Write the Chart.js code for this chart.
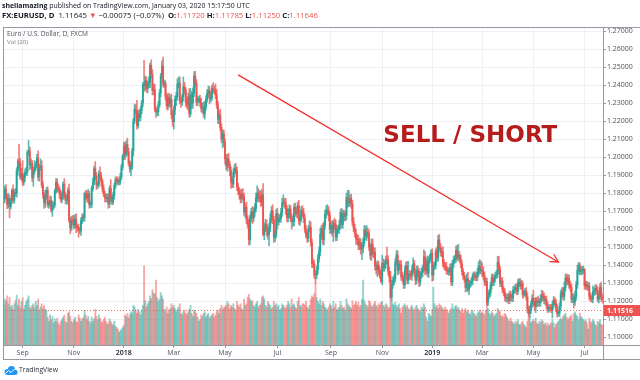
<!DOCTYPE html>
<html><head><meta charset="utf-8">
<script src="https://cdn.jsdelivr.net/npm/chart.js@4.4.1/dist/chart.umd.min.js"></script>
<style>html,body{margin:0;padding:0;background:#fff;}canvas{display:block;}</style>
</head><body>
<canvas id="c" width="640" height="380"></canvas>
<script>
// ---------------- DATA (EUR/USD daily) ----------------
const startDate = '2017-08-10';
const firstOpen = 1.1757;
const closes = [
// Aug 2017
1.1766,1.1822,1.1780,1.1735,1.1769,1.1725,1.1761,1.1815,1.1760,1.1800,1.1797,1.1923,1.1977,1.1967,1.1887,1.1907,
// Sep 2017
1.1860,1.1890,1.1915,1.1918,1.2025,1.2035,1.1955,1.1965,1.1885,1.1920,1.1945,1.1955,1.1995,1.1890,1.1940,1.1950,1.1845,1.1790,1.1745,1.1785,1.1815,
// Oct 2017
1.1735,1.1740,1.1760,1.1705,1.1730,1.1735,1.1810,1.1860,1.1825,1.1820,1.1795,1.1765,1.1785,1.1850,1.1785,1.1760,1.1762,1.1815,1.1650,1.1605,1.1650,1.1645,
// Nov 2017
1.1620,1.1655,1.1610,1.1608,1.1595,1.1590,1.1645,1.1665,1.1662,1.1795,1.1792,1.1770,1.1795,1.1735,1.1738,1.1825,1.1855,1.1935,1.1895,1.1845,1.1848,1.1905,
// Dec 2017
1.1895,1.1865,1.1825,1.1795,1.1775,1.1770,1.1775,1.1740,1.1825,1.1775,1.1750,1.1785,1.1840,1.1875,1.1870,1.1860,1.1862,1.1890,1.1945,1.2005,
// Jan 2018
1.2060,1.2015,1.2070,1.2030,1.1965,1.1935,1.1950,1.2035,1.2200,1.2265,1.2260,1.2175,1.2235,1.2220,1.2260,1.2300,1.2405,1.2395,1.2425,1.2380,1.2400,1.2415,
// Feb 2018
1.2510,1.2460,1.2370,1.2375,1.2265,1.2250,1.2253,1.2290,1.2355,1.2450,1.2505,1.2405,1.2408,1.2335,1.2285,1.2330,1.2295,1.2320,1.2235,1.2195,
// Mar 2018
1.2265,1.2320,1.2335,1.2405,1.2410,1.2310,1.2305,1.2335,1.2390,1.2370,1.2305,1.2290,1.2335,1.2240,1.2345,1.2300,1.2355,1.2450,1.2410,1.2305,1.2320,1.2323,
// Apr 2018
1.2300,1.2270,1.2275,1.2240,1.2280,1.2320,1.2355,1.2370,1.2325,1.2330,1.2380,1.2375,1.2372,1.2345,1.2290,1.2210,1.2235,1.2165,1.2100,1.2130,1.2080,
// May 2018
1.1990,1.1950,1.1990,1.1960,1.1925,1.1865,1.1850,1.1915,1.1940,1.1925,1.1835,1.1810,1.1795,1.1770,1.1790,1.1780,1.1695,1.1720,1.1655,1.1625,1.1540,1.1665,1.1695,
// Jun 2018
1.1660,1.1695,1.1715,1.1775,1.1800,1.1770,1.1780,1.1750,1.1790,1.1570,1.1605,1.1625,1.1590,1.1568,1.1605,1.1655,1.1700,1.1650,1.1555,1.1570,1.1685,
// Jul 2018
1.1640,1.1655,1.1658,1.1690,1.1745,1.1750,1.1745,1.1710,1.1665,1.1685,1.1710,1.1660,1.1640,1.1642,1.1720,1.1690,1.1685,1.1730,1.1645,1.1655,1.1705,1.1690,
// Aug 2018
1.1660,1.1600,1.1565,1.1550,1.1600,1.1610,1.1525,1.1410,1.1405,1.1345,1.1343,1.1375,1.1435,1.1475,1.1570,1.1600,1.1540,1.1620,1.1680,1.1700,1.1705,1.1675,1.1600,
// Sep 2018
1.1620,1.1580,1.1630,1.1625,1.1555,1.1595,1.1600,1.1625,1.1690,1.1625,1.1685,1.1670,1.1675,1.1775,1.1745,1.1750,1.1770,1.1740,1.1640,1.1605,
// Oct 2018
1.1575,1.1545,1.1540,1.1510,1.1525,1.1490,1.1492,1.1525,1.1595,1.1560,1.1580,1.1575,1.1500,1.1455,1.1515,1.1465,1.1470,1.1395,1.1375,1.1400,1.1370,1.1345,1.1310,
// Nov 2018
1.1410,1.1385,1.1405,1.1430,1.1428,1.1365,1.1335,1.1220,1.1290,1.1310,1.1325,1.1415,1.1455,1.1370,1.1405,1.1400,1.1335,1.1325,1.1290,1.1370,1.1395,1.1315,
// Dec 2018
1.1350,1.1345,1.1340,1.1375,1.1405,1.1355,1.1315,1.1370,1.1360,1.1305,1.1345,1.1360,1.1380,1.1445,1.1370,1.1420,1.1355,1.1430,1.1440,1.1465,
// Jan 2019
1.1345,1.1395,1.1398,1.1475,1.1440,1.1540,1.1500,1.1470,1.1472,1.1410,1.1395,1.1390,1.1368,1.1362,1.1365,1.1385,1.1305,1.1405,1.1430,1.1435,1.1480,1.1445,
// Feb 2019
1.1455,1.1435,1.1405,1.1365,1.1340,1.1325,1.1275,1.1325,1.1265,1.1295,1.1297,1.1310,1.1340,1.1342,1.1335,1.1332,1.1360,1.1395,1.1370,1.1372,
// Mar 2019
1.1365,1.1340,1.1305,1.1307,1.1195,1.1235,1.1245,1.1285,1.1330,1.1305,1.1325,1.1340,1.1350,1.1415,1.1375,1.1300,1.1310,1.1265,1.1250,1.1220,1.1215,
// Apr 2019
1.1218,1.1205,1.1235,1.1220,1.1217,1.1260,1.1265,1.1275,1.1255,1.1300,1.1305,1.1285,1.1295,1.1235,1.1245,1.1255,1.1225,1.1155,1.1130,1.1150,1.1185,1.1215,
// May 2019
1.1195,1.1170,1.1200,1.1197,1.1190,1.1192,1.1215,1.1235,1.1225,1.1205,1.1208,1.1175,1.1155,1.1165,1.1160,1.1150,1.1180,1.1205,1.1190,1.1160,1.1130,1.1133,1.1170,
// Jun 2019
1.1240,1.1250,1.1225,1.1275,1.1330,1.1310,1.1325,1.1290,1.1275,1.1210,1.1220,1.1195,1.1225,1.1290,1.1370,1.1400,1.1365,1.1368,1.1372,1.1375,
// Jul 2019
1.1285,1.1290,1.1280,1.1283,1.1225,1.1215,1.1210,1.1250,1.1255,1.1270,1.1260,1.1210,1.1225,1.1275,1.1220,1.1210
];
// wick lengths above / below the body, in pips
const wickUp = [
20,18,25,15,30,20,12,10,30,20,25,18,12,93,25,30,
73,15,20,25,12,57,20,25,15,22,35,18,20,40,20,40,30,18,12,30,15,
20,15,25,20,25,15,12,20,20,25,15,18,22,12,30,18,30,15,35,15,20,25,
30,25,30,15,20,15,18,20,20,10,20,20,25,15,15,15,30,15,40,20,15,20,
40,20,15,20,15,20,20,20,15,50,15,20,15,15,15,20,15,20,15,10,
25,20,20,35,20,15,25,15,15,30,25,55,20,30,20,15,10,132,25,20,20,30,
13,30,25,30,30,15,20,20,20,15,30,50,20,15,20,20,25,25,30,20,
20,20,25,30,35,35,15,15,55,25,15,15,20,45,35,20,30,25,26,20,15,15,
20,25,25,30,30,20,20,25,20,30,20,34,20,35,30,20,20,30,20,20,20,
20,25,25,30,15,20,25,20,20,25,20,20,20,25,30,35,20,20,30,20,25,15,20,
30,25,25,25,40,25,35,30,30,62,30,30,25,25,25,30,25,35,20,20,25,
30,30,20,25,25,40,20,25,20,30,25,20,25,30,20,25,30,20,30,20,20,25,
25,20,20,20,20,35,30,20,25,20,20,20,25,25,35,20,30,20,25,30,30,20,20,
20,25,20,30,25,20,20,25,20,25,20,20,20,25,40,65,20,25,20,25,
20,25,25,25,25,20,25,25,25,20,40,25,20,20,30,30,25,25,20,25,20,20,25,
45,25,20,20,70,25,25,30,25,25,20,20,25,25,20,20,25,25,20,25,20,25,
70,20,20,20,35,20,25,25,25,20,20,25,20,40,30,20,30,20,20,20,
25,20,20,15,25,25,30,20,20,30,20,20,25,20,20,20,25,20,20,20,25,30,
60,20,20,20,15,20,15,25,35,20,20,20,15,20,20,20,20,25,35,50,
40,25,20,20,20,20,20,20,20,20,20,20,20,33,35,20,20,20,15,20,20,
20,25,20,20,20,20,20,20,20,20,20,20,20,15,15,15,20,20,20,20,15,20,
45,20,20,20,30,20,20,25,20,20,20,20,20,15,15,20,20,20,15,20,20,15,20,
20,25,25,30,20,20,20,20,20,20,20,20,30,20,30,15,12,20,20,20,
5,20,20,20,20,20,20,35,20,20,20,20,20,20,30,20
];
const wickDown = [
15,20,12,22,18,63,15,20,12,18,15,20,25,30,12,15,
20,15,25,18,20,15,25,18,20,47,15,20,15,20,25,15,15,20,30,25,20,
15,20,15,12,35,20,15,12,20,15,25,15,20,20,15,20,25,20,15,30,15,20,
20,15,30,20,41,15,25,15,20,20,30,20,25,20,15,20,15,10,20,25,20,15,
20,25,20,15,25,20,20,25,20,20,15,15,20,15,20,15,15,15,15,15,
20,30,15,20,15,20,40,20,30,15,20,20,15,20,20,20,20,30,25,20,25,15,
30,20,25,25,15,30,20,25,15,20,15,15,20,20,20,25,20,15,20,25,
40,30,35,20,20,15,30,20,25,20,25,20,30,20,15,30,30,20,20,20,20,15,
20,20,25,20,30,20,15,20,30,20,15,20,20,20,20,25,25,20,20,50,20,
30,20,30,20,30,40,20,20,25,20,20,20,30,25,25,20,20,30,25,20,30,25,25,
30,20,25,20,25,20,20,25,20,8,30,20,30,25,62,20,20,20,30,25,20,
40,20,20,20,20,20,30,30,25,25,25,20,40,25,25,20,20,25,20,25,15,20,
25,20,15,25,20,15,20,25,20,20,44,20,25,20,25,25,25,30,20,20,20,30,25,
25,20,50,25,20,20,20,25,25,20,20,25,25,25,25,20,25,25,20,20,
20,30,25,25,25,30,60,25,20,20,25,25,20,25,30,20,25,25,25,40,25,20,10,
20,20,20,25,20,20,30,4,20,20,20,20,20,25,20,20,20,20,20,20,25,20,
20,25,20,25,20,20,25,20,25,25,20,20,25,20,25,20,20,25,20,20,
35,30,20,20,20,20,20,20,25,20,20,20,20,15,20,20,20,20,20,20,20,20,
20,20,20,20,20,20,25,20,15,30,20,15,20,20,20,20,20,20,20,20,
30,20,20,20,19,20,20,20,20,20,20,20,15,20,25,20,20,20,20,20,20,
20,20,20,20,20,20,20,20,20,20,20,20,20,20,15,15,20,20,20,19,20,20,
20,20,35,30,20,20,20,20,25,20,25,20,20,15,15,15,45,20,15,20,20,15,20,
20,20,20,20,20,20,20,20,20,20,20,35,20,20,20,20,20,20,20,20,
20,20,20,20,20,20,15,20,20,20,20,15,20,15,20,20
];
const volumes = [
50,58,55,62,52,60,48,50,45,52,56,63,50,58,47,55,
60,45,50,55,58,62,48,46,50,52,47,55,50,58,44,48,52,46,50,45,44,
35,30,38,32,36,28,33,30,34,28,25,30,32,35,38,30,28,40,42,36,30,28,
32,35,30,28,38,34,30,33,35,44,38,32,36,30,28,35,30,33,45,36,32,38,
34,30,28,32,35,30,26,28,33,30,27,25,30,24,22,20,16,18,20,22,
25,38,36,40,34,38,42,40,50,48,44,40,45,42,38,44,50,100,56,48,52,55,
62,58,70,66,64,82,60,55,58,66,62,58,45,42,48,40,44,46,52,48,
50,46,42,45,48,52,40,38,42,44,40,38,42,45,50,40,36,44,42,40,35,30,
32,38,36,40,42,35,38,40,34,36,38,40,35,38,42,44,40,46,50,45,48,
48,50,55,52,46,50,48,52,46,44,55,50,48,52,46,44,58,50,52,60,64,58,55,
56,50,48,52,55,48,50,52,60,62,58,50,48,55,52,50,46,48,55,50,52,
48,50,44,46,52,50,48,46,50,55,52,48,58,50,52,48,46,55,60,50,48,52,
52,50,55,48,46,50,58,62,60,65,78,60,55,52,58,50,55,52,48,46,44,48,52,
50,46,55,48,52,44,46,48,55,50,46,48,44,58,52,50,48,46,56,50,
52,55,50,54,48,50,58,82,56,52,50,48,56,54,50,48,52,55,50,48,52,50,54,
55,50,48,52,50,46,48,60,55,52,50,54,50,48,52,46,40,48,50,52,48,50,
46,44,48,50,46,44,48,50,46,44,42,48,46,52,48,35,30,40,38,36,
45,73,52,48,50,46,52,50,48,46,44,48,45,42,40,44,46,52,45,48,50,46,
48,44,42,46,40,44,46,42,44,40,38,42,44,40,38,36,40,42,44,40,
42,40,38,44,55,46,40,38,42,40,36,38,40,46,44,42,36,38,35,40,38,
35,32,30,34,30,28,26,30,28,32,26,25,28,30,26,24,22,30,34,36,28,30,
32,30,34,28,26,30,28,32,30,26,28,25,28,24,26,28,32,28,22,26,28,30,32,
34,32,36,38,40,35,32,34,36,38,30,40,42,38,36,32,40,36,34,32,
30,32,28,20,34,30,28,32,30,26,24,30,28,32,26,25
];
const priceTicks = [1.27,1.26,1.25,1.24,1.23,1.22,1.21,1.20,1.19,1.18,1.17,1.16,1.15,1.14,1.13,1.12,1.11,1.10];
const timeTickMonths = ['2017-09','2017-11','2018-01','2018-03','2018-05','2018-07','2018-09','2018-11','2019-01','2019-03','2019-05','2019-07'];
const timeTickLabels = ['Sep','Nov','2018','Mar','May','Jul','Sep','Nov','2019','Mar','May','Jul'];
const lastPrice = 1.11516;
const arrowFrom = {bar: 197, price: 1.2456};
const arrowTo = {bar: 466, price: 1.1417};
const noteText = 'SELL / SHORT';
const noteAt = {bar: 319, price: 1.2083};
// -----------------------------------------------------------------------------

const FONT = '"Open Sans", "Liberation Sans", sans-serif';
const UP = '#26a69a', DOWN = '#ef5350';
const N = closes.length;

// trading calendar (weekdays, no Dec 25 / Jan 1)
const dates = [];
{
  const d = new Date(startDate + 'T00:00:00Z');
  while (dates.length < N) {
    const wd = d.getUTCDay();
    const iso = d.toISOString().slice(0, 10);
    const md = iso.slice(5);
    if (wd !== 0 && wd !== 6 && md !== '12-25' && md !== '01-01') dates.push(iso);
    d.setUTCDate(d.getUTCDate() + 1);
  }
}
const tickIdx = timeTickMonths.map(m => dates.findIndex(s => s.startsWith(m)));

const opens = closes.map((c, i) => i === 0 ? firstOpen : closes[i - 1]);
const highs = closes.map((c, i) => Math.max(opens[i], c) + (wickUp[i] || 0) / 10000);
const lows = closes.map((c, i) => Math.min(opens[i], c) - (wickDown[i] || 0) / 10000);
const isUp = closes.map((c, i) => c >= opens[i]);

function drawRuns(ctx, runs, x, y, targetW, family) {
  const base = 10;
  let w = 0;
  runs.forEach(r => { ctx.font = (r.b ? 'bold ' : '') + base + 'px ' + family; w += ctx.measureText(r.t).width; });
  const s = base * targetW / w;
  let cx = x;
  ctx.textBaseline = 'middle';
  ctx.textAlign = 'left';
  runs.forEach(r => {
    ctx.font = (r.b ? 'bold ' : '') + s.toFixed(2) + 'px ' + family;
    ctx.fillStyle = r.c || '#131722';
    ctx.fillText(r.t, cx, y);
    cx += ctx.measureText(r.t).width;
  });
}

const overlay = {
  id: 'overlay',
  afterDraw(chart) {
    const ctx = chart.ctx;
    const xs = chart.scales.x, ys = chart.scales.y;
    const ca = chart.chartArea;
    ctx.save();
    // frame
    ctx.strokeStyle = '#9598a1';
    ctx.lineWidth = 1;
    ctx.beginPath();
    ctx.moveTo(3.5, ca.top - 0.5); ctx.lineTo(3.5, 359.5);
    ctx.moveTo(3, ca.top - 0.5); ctx.lineTo(640, ca.top - 0.5);
    ctx.moveTo(3, ca.bottom + 0.5); ctx.lineTo(640, ca.bottom + 0.5);
    ctx.moveTo(3, 359.5); ctx.lineTo(640, 359.5);
    ctx.moveTo(ca.right + 0.5, ca.top - 0.5); ctx.lineTo(ca.right + 0.5, 359.5);
    ctx.stroke();

    // last price line + label
    const py = ys.getPixelForValue(lastPrice);
    ctx.strokeStyle = 'rgba(239,83,80,0.85)';
    ctx.setLineDash([1, 2]);
    ctx.beginPath(); ctx.moveTo(ca.left, Math.round(py) + 0.5); ctx.lineTo(ca.right, Math.round(py) + 0.5); ctx.stroke();
    ctx.setLineDash([]);
    ctx.fillStyle = '#ef5350';
    ctx.fillRect(ca.right + 1, Math.round(py) - 5, 640 - ca.right - 1, 11);
    ctx.fillStyle = '#ffffff';
    ctx.font = 'bold 7px ' + FONT;
    ctx.textBaseline = 'middle'; ctx.textAlign = 'left';
    ctx.fillText(lastPrice.toFixed(5), ca.right + 4, Math.round(py) + 0.5);

    // trend arrow
    const x1 = xs.getPixelForValue(arrowFrom.bar), y1 = ys.getPixelForValue(arrowFrom.price);
    const x2 = xs.getPixelForValue(arrowTo.bar), y2 = ys.getPixelForValue(arrowTo.price);
    ctx.strokeStyle = '#f0302c';
    ctx.lineWidth = 1.3;
    ctx.beginPath(); ctx.moveTo(x1, y1); ctx.lineTo(x2, y2); ctx.stroke();
    const ang = Math.atan2(y2 - y1, x2 - x1), L = 9, A = 0.5;
    ctx.beginPath();
    ctx.moveTo(x2 - L * Math.cos(ang - A), y2 - L * Math.sin(ang - A));
    ctx.lineTo(x2, y2);
    ctx.lineTo(x2 - L * Math.cos(ang + A), y2 - L * Math.sin(ang + A));
    ctx.stroke();

    // note text
    const nx = xs.getPixelForValue(noteAt.bar), ny = ys.getPixelForValue(noteAt.price);
    ctx.textBaseline = 'alphabetic'; ctx.textAlign = 'left';
    ctx.font = 'bold 10px "DejaVu Sans"';
    const nw = ctx.measureText(noteText).width;
    ctx.font = 'bold ' + (10 * 174 / nw).toFixed(2) + 'px "DejaVu Sans"';
    ctx.fillStyle = '#b71c1c';
    ctx.fillText(noteText, nx, ny);

    // header
    drawRuns(ctx, [
      {t: 'sheilamazing', b: true},
      {t: ' published on TradingView.com, January 03, 2020 15:17:50 UTC'}
    ], 2, 6.5, 248, FONT);
    const R = '#ef5350';
    drawRuns(ctx, [
      {t: 'FX:EURUSD, D', b: true},
      {t: '  1.11645 '},
      {t: '\u25BC', c: R},
      {t: ' \u22120.00075 (\u22120.07%)  '},
      {t: 'O:', b: true}, {t: '1.11720', c: R},
      {t: ' H:', b: true}, {t: '1.11785', c: R},
      {t: ' L:', b: true}, {t: '1.11250', c: R},
      {t: ' C:', b: true}, {t: '1.11646', c: R}
    ], 2, 16, 316, FONT);

    // pane legend
    drawRuns(ctx, [{t: 'Euro / U.S. Dollar, D, FXCM', c: '#4c525e'}], 7, 34.5, 81, FONT);
    drawRuns(ctx, [{t: 'Vol (20)', c: '#787b86'}], 7, 42.5, 21, FONT);

    // footer logo
    ctx.fillStyle = '#2196f3';
    ctx.beginPath();
    ctx.arc(7.5, 372, 3, 0, Math.PI * 2);
    ctx.arc(11.5, 369.5, 3.6, 0, Math.PI * 2);
    ctx.arc(15, 372.3, 2.6, 0, Math.PI * 2);
    ctx.fill();
    ctx.fillRect(7.5, 371, 7.5, 4);
    ctx.strokeStyle = '#ffffff'; ctx.lineWidth = 1;
    ctx.beginPath(); ctx.moveTo(5.5, 373.5); ctx.lineTo(8.5, 370.5); ctx.lineTo(11, 372.5); ctx.lineTo(15, 368.5); ctx.stroke();
    drawRuns(ctx, [{t: 'TradingView', c: '#2a2e39'}], 19, 370.5, 39, FONT);
    ctx.restore();
  }
};

new Chart(document.getElementById('c'), {
  type: 'bar',
  data: {
    labels: dates,
    datasets: [
      { label: 'body', data: closes.map((c, i) => [opens[i], c]), backgroundColor: isUp.map(u => u ? UP : DOWN),
        barThickness: 1.2, grouped: false, minBarLength: 1, order: 0, yAxisID: 'y' },
      { label: 'wick', data: closes.map((c, i) => [lows[i], highs[i]]),
        backgroundColor: isUp.map(u => u ? 'rgba(38,166,154,0.75)' : 'rgba(239,83,80,0.75)'),
        barThickness: 1, grouped: false, order: 1, yAxisID: 'y' },
      { label: 'vol', data: volumes, backgroundColor: isUp.map(u => u ? 'rgba(38,166,154,0.5)' : 'rgba(239,83,80,0.5)'),
        barPercentage: 1, categoryPercentage: 1, grouped: false, order: 2, yAxisID: 'yv' }
    ]
  },
  options: {
    responsive: false, animation: false, events: [], devicePixelRatio: 1,
    layout: { padding: { left: 3, right: 0, top: 28, bottom: 21 } },
    plugins: { legend: { display: false }, tooltip: { enabled: false } },
    scales: {
      x: {
        offset: true,
        afterBuildTicks: s => { s.ticks = tickIdx.map(v => ({ value: v })); },
        afterFit: s => { s.height = 14; },
        ticks: {
          autoSkip: false, maxRotation: 0, minRotation: 0, padding: 1,
          callback: (v, i) => timeTickLabels[i],
          font: ctx => ({ family: FONT, size: 7, weight: /^\d{4}$/.test(timeTickLabels[ctx.index] || '') ? '600' : 'normal' }),
          color: ctx => /^\d{4}$/.test(timeTickLabels[ctx.index] || '') ? '#131722' : '#4c525e'
        },
        grid: { offset: false, color: '#edf1f5', tickColor: '#9598a1', tickLength: 3, drawTicks: true },
        border: { display: false }
      },
      y: {
        position: 'right', min: 1.09556, max: 1.27167, bounds: 'data',
        afterBuildTicks: s => { s.ticks = priceTicks.map(v => ({ value: v })); },
        afterFit: s => { s.width = 37; },
        ticks: { callback: v => Number(v).toFixed(5), font: { family: FONT, size: 7 }, color: '#4c525e', padding: 1 },
        grid: { color: '#edf1f5', tickColor: '#9598a1', tickLength: 3, drawTicks: true },
        border: { display: false }
      },
      yv: { display: false, min: 0, max: 400 }
    }
  },
  plugins: [overlay]
});

if (wickUp.length !== N || wickDown.length !== N || volumes.length !== N) {
  throw new Error('length mismatch: closes ' + N + ' wickUp ' + wickUp.length + ' wickDown ' + wickDown.length + ' volumes ' + volumes.length);
}
</script>
</body></html>
